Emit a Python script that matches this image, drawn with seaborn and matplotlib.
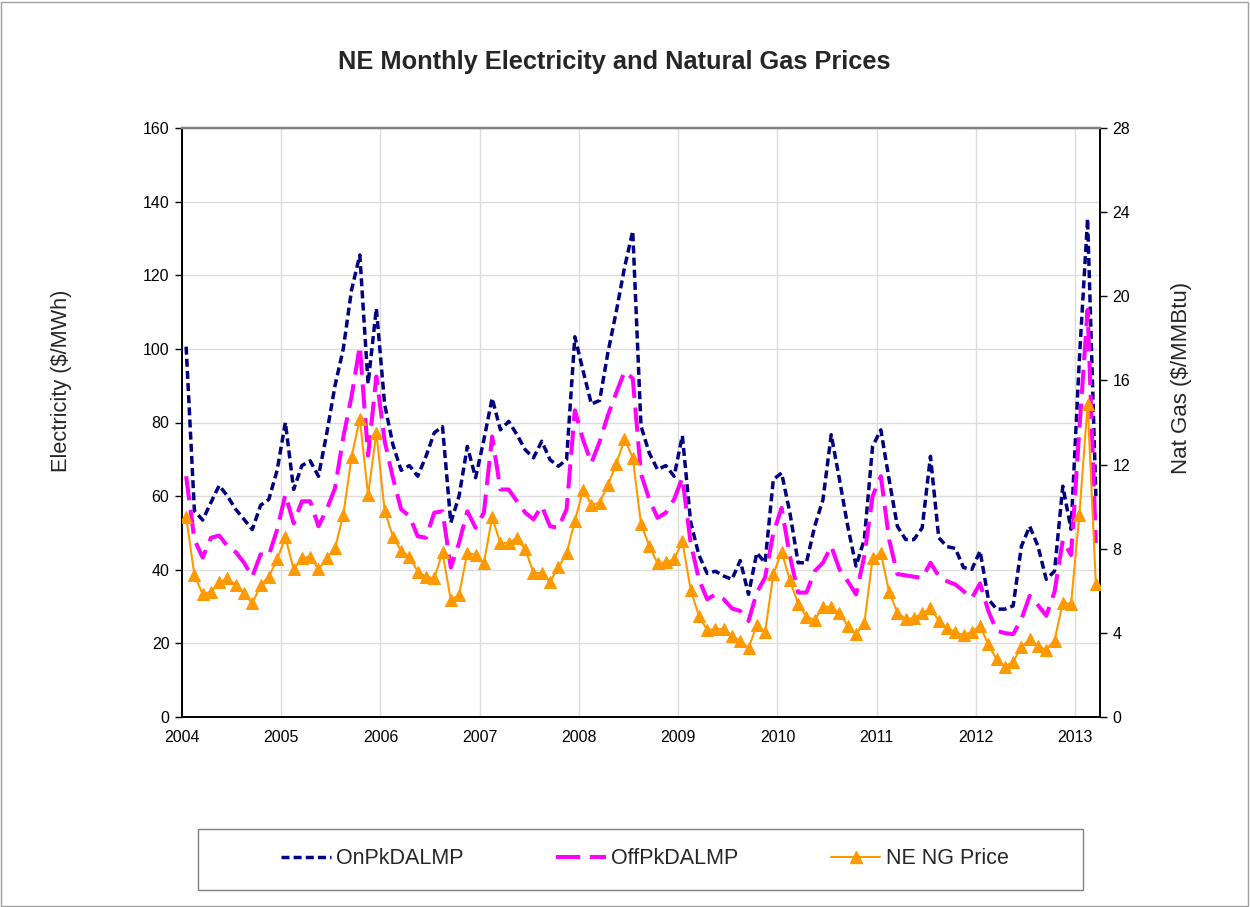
import matplotlib
matplotlib.use("Agg")
import matplotlib.pyplot as plt
from matplotlib.lines import Line2D
from matplotlib.patches import Rectangle
import numpy as np
import pandas as pd
import seaborn as sns

# Monthly series, Jan 2004 .. Mar 2013
start_year = 2004
onpk_dalmp = [
    100.6, 56.0, 53.5, 58.3, 62.9, 60.0, 56.4, 53.7, 50.9, 57.5, 59.1, 67.0,   # 2004
    80.0, 61.8, 68.3, 69.6, 65.4, 77.0, 90.0, 100.0, 116.0, 125.5, 90.5, 111.0,  # 2005
    85.0, 74.0, 67.0, 68.3, 65.4, 70.8, 77.2, 78.9, 52.8, 60.0, 73.5, 65.0,    # 2006
    75.3, 86.6, 78.0, 80.3, 76.7, 72.6, 70.4, 74.9, 69.9, 68.1, 69.9, 103.3,   # 2007
    94.0, 85.0, 86.0, 99.0, 110.0, 122.0, 132.0, 79.0, 71.7, 67.2, 68.3, 65.4,  # 2008
    76.4, 53.0, 44.0, 39.0, 39.6, 38.3, 37.4, 42.5, 33.3, 44.6, 41.9, 64.5,    # 2009
    66.3, 55.5, 41.9, 41.9, 51.8, 59.0, 76.7, 64.5, 51.8, 41.0, 48.2, 73.5,    # 2010
    78.0, 64.5, 51.8, 48.2, 48.2, 51.4, 70.8, 48.7, 46.3, 45.8, 40.6, 40.1,    # 2011
    45.1, 32.0, 29.3, 29.3, 30.2, 46.4, 51.8, 46.4, 37.4, 39.6, 62.7, 51.0,    # 2012
    97.0, 135.4, 60.0,                                                          # 2013
]
offpk_dalmp = [
    65.4, 48.2, 43.3, 48.7, 49.3, 46.4, 44.8, 41.9, 38.1, 44.2, 43.9, 50.9,
    60.4, 52.6, 58.6, 58.6, 51.8, 56.4, 62.2, 76.0, 87.1, 100.8, 71.0, 92.5,
    75.0, 65.0, 56.4, 54.6, 49.1, 48.7, 55.5, 55.9, 40.6, 47.3, 55.9, 51.4,
    55.5, 76.2, 61.8, 61.8, 58.6, 55.5, 53.7, 57.3, 51.8, 51.4, 56.4, 83.3,
    75.3, 69.0, 74.8, 82.0, 88.0, 93.8, 92.0, 66.0, 59.1, 54.1, 55.5, 59.1,
    65.0, 47.3, 37.4, 32.0, 33.3, 32.0, 29.5, 28.8, 26.1, 33.8, 37.9, 50.0,
    56.8, 43.7, 33.8, 33.8, 39.6, 41.9, 46.4, 40.1, 36.9, 33.3, 43.7, 60.0,
    65.4, 48.2, 38.8, 38.5, 38.1, 37.8, 41.9, 38.3, 36.9, 36.0, 34.2, 32.3,
    36.3, 28.8, 23.4, 22.8, 22.5, 26.6, 32.9, 30.4, 27.5, 34.0, 48.0, 44.0,
    78.0, 110.6, 47.3,
]
ne_ng_price = [
    9.52, 6.75, 5.83, 5.96, 6.40, 6.59, 6.27, 5.88, 5.40, 6.27, 6.67, 7.49,
    8.54, 7.02, 7.54, 7.62, 7.02, 7.54, 8.02, 9.60, 12.36, 14.18, 10.55, 13.52,
    9.81, 8.57, 7.89, 7.62, 6.91, 6.67, 6.59, 7.83, 5.56, 5.80, 7.81, 7.70,
    7.33, 9.49, 8.26, 8.29, 8.49, 7.97, 6.86, 6.83, 6.43, 7.11, 7.78, 9.32,
    10.80, 10.08, 10.19, 11.03, 12.02, 13.20, 12.33, 9.17, 8.13, 7.30, 7.35, 7.51,
    8.35, 6.06, 4.80, 4.14, 4.18, 4.18, 3.86, 3.60, 3.27, 4.37, 4.03, 6.78,
    7.86, 6.51, 5.37, 4.77, 4.61, 5.24, 5.24, 4.93, 4.33, 3.94, 4.45, 7.54,
    7.78, 5.96, 4.96, 4.66, 4.69, 4.93, 5.17, 4.58, 4.21, 4.03, 3.90, 4.05,
    4.34, 3.45, 2.74, 2.39, 2.63, 3.34, 3.69, 3.37, 3.20, 3.63, 5.44, 5.37,
    9.60, 14.88, 6.33,
]
series_names = ["OnPkDALMP", "OffPkDALMP", "NE NG Price"]
year_ticks = list(range(2004, 2014))
elec_ticks = list(range(0, 161, 20))
gas_ticks = list(range(0, 29, 4))

# mid-month positions on a fractional-year axis
n = len(ne_ng_price)
df = pd.DataFrame({
    "t": start_year + (np.arange(n) + 0.5) / 12.0,
    "onpk": onpk_dalmp,
    "offpk": offpk_dalmp,
    "gas": ne_ng_price,
})

sns.set_theme(style="white")
plt.rcParams["font.family"] = ["Liberation Sans", "DejaVu Sans"]

NAVY = "#000080"
MAGENTA = "#FF00FF"
ORANGE = "#FF9900"

fig = plt.figure(figsize=(12.5, 9.07), dpi=100)
fig.patch.set_facecolor("white")
ax = fig.add_axes([182 / 1250, 1 - 717 / 907, 918 / 1250, 589 / 907])
ax2 = ax.twinx()

sns.lineplot(data=df, x="t", y="onpk", ax=ax, color=NAVY, linewidth=2.5,
             legend=False, zorder=3)
ax.lines[-1].set_dashes([2.3, 1.2])
sns.lineplot(data=df, x="t", y="offpk", ax=ax, color=MAGENTA, linewidth=2.9,
             legend=False, zorder=3)
ax.lines[-1].set_dashes([6.0, 2.4])
sns.lineplot(data=df, x="t", y="gas", ax=ax2, color=ORANGE, linewidth=1.5,
             marker="^", markersize=8.5, markeredgecolor=ORANGE,
             markerfacecolor=ORANGE, legend=False, zorder=4)

ax.set_xlim(2004, 2013.25)
ax.set_ylim(0, 160)
ax2.set_ylim(0, 28)
ax.set_xticks(year_ticks)
ax.set_xticklabels([str(y) for y in year_ticks])
ax.set_yticks(elec_ticks)
ax2.set_yticks(gas_ticks)
ax.set_xlabel("")
ax.set_ylabel("")
ax2.set_ylabel("")

ax.grid(True, color="#dcdcdc", linewidth=1.0)
ax.set_axisbelow(True)
ax2.grid(False)

for a in (ax, ax2):
    a.tick_params(direction="out", length=5, width=1, colors="black",
                  labelsize=11.5, pad=4)
    for side in ("left", "right", "bottom"):
        a.spines[side].set_color("black")
        a.spines[side].set_linewidth(1.2)
    a.spines["top"].set_color("#808080")
    a.spines["top"].set_linewidth(1.6)
ax.tick_params(axis="y", right=False)
ax2.tick_params(axis="y", left=False)

fig.text(614 / 1250, 1 - 62 / 907, "NE Monthly Electricity and Natural Gas Prices",
         ha="center", va="center", fontsize=18.3, fontweight="bold")
fig.text(62 / 1250, 1 - 381 / 907, "Electricity ($/MWh)", rotation=90,
         ha="center", va="center", fontsize=15.7)
fig.text(1181 / 1250, 1 - 378 / 907, "Nat Gas ($/MMBtu)", rotation=90,
         ha="center", va="center", fontsize=16)

handles = [
    Line2D([], [], color=NAVY, linewidth=2.5, dashes=[2.3, 1.2]),
    Line2D([], [], color=MAGENTA, linewidth=2.9, dashes=[6.0, 2.4]),
    Line2D([], [], color=ORANGE, linewidth=1.5, marker="^", markersize=8.5,
           markeredgecolor=ORANGE),
]
leg = fig.legend(handles, series_names, loc="center",
                 bbox_to_anchor=(645 / 1250, 1 - 859 / 907), ncol=3,
                 fontsize=15.5, frameon=False,
                 handlelength=2.3, handletextpad=0.25, columnspacing=4.3)

# legend box
fig.patches.append(Rectangle((198 / 1250, 1 - 890 / 907), 885 / 1250, 61 / 907,
                             transform=fig.transFigure, fill=False,
                             edgecolor="#808080", linewidth=1.0))
# chart-area border
fig.patches.append(Rectangle((0.001, 0.001), 0.997, 0.997, transform=fig.transFigure,
                             fill=False, edgecolor="#a0a0a0", linewidth=1.0))

fig.savefig("out.png", dpi=100, facecolor="white")
